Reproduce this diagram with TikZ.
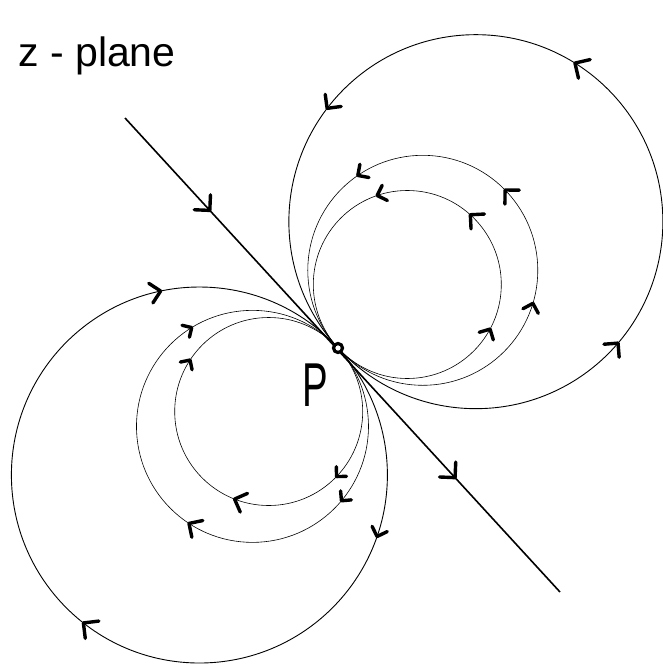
\documentclass[tikz,border=0pt]{standalone}
\usepackage{fontspec}
\setmainfont{Liberation Sans}
\usetikzlibrary{decorations.markings}
\tikzset{
  field/.style={line width=0.6pt},
  bigfield/.style={line width=0.9pt},
  chevstroke/.style={line width=3.4pt, line cap=round, line join=round},
  axisline/.style={line width=1.6pt, postaction={decorate},
    decoration={markings,
      mark=at position 0.195 with {\draw[chevstroke] (-11,-11) -- (0,0) -- (-11,11);},
      mark=at position 0.759 with {\draw[chevstroke] (-11,-11) -- (0,0) -- (-11,11);}}},
  handtext/.style={inner sep=0pt},
}
% center, radius, angle, direction (+1 cw / -1 ccw on screen), arm size
\newcommand\fmark[5]{%
  \begin{scope}[shift={([shift={(#3:#2)}]#1)}, rotate={-(#3+(#4)*90)}]
    \draw[chevstroke] (-#5,-#5) -- (0,0) -- (-#5,#5);
  \end{scope}}
\begin{document}
\begin{tikzpicture}[x=1pt,y=-1pt]
\useasboundingbox (0,0) rectangle (662,664);
\coordinate (P) at (338,348);
\coordinate (A) at (125,118);
\coordinate (B) at (560,592);
% upper-right family
\coordinate (U1) at ([shift={(-42.5:187)}]P);
\coordinate (U2) at ([shift={(-42.5:115)}]P);
\coordinate (U3) at ([shift={(-42.5:94)}]P);
% lower-left family
\coordinate (L1) at ([shift={(137.5:188)}]P);
\coordinate (L2) at ([shift={(137.5:116)}]P);
\coordinate (L3) at ([shift={(137.5:94)}]P);

\draw[bigfield] (U1) circle[radius=187];
\draw[field] (U2) circle[radius=115];
\draw[field] (U3) circle[radius=94];
\draw[bigfield] (L1) circle[radius=188];
\draw[field] (L2) circle[radius=116];
\draw[field] (L3) circle[radius=94];

\draw[axisline] (A) -- (B);

% arrows upper
\fmark{U1}{187}{217.3}{-1}{10}
\fmark{U1}{187}{302}{-1}{11}
\fmark{U1}{187}{40.5}{-1}{10}
\fmark{U2}{115}{16.7}{-1}{8}
\fmark{U2}{115}{315.7}{-1}{10}
\fmark{U2}{115}{235.6}{-1}{8}
\fmark{U3}{94}{28.3}{-1}{8}
\fmark{U3}{94}{312.1}{-1}{10}
\fmark{U3}{94}{251.3}{-1}{8}
% arrows lower
\fmark{L1}{188}{258.1}{1}{10}
\fmark{L1}{188}{19.1}{1}{8}
\fmark{L1}{188}{128.1}{1}{11}
\fmark{L2}{116}{238.4}{1}{7}
\fmark{L2}{116}{39.9}{1}{7}
\fmark{L2}{116}{123.2}{1}{10}
\fmark{L3}{94}{213.2}{1}{7}
\fmark{L3}{94}{43.8}{1}{7}
\fmark{L3}{94}{111.3}{1}{10}

\draw[line width=3.2pt, fill=white] (P) circle[radius=4.5];
\node[handtext] (plabel) at (315,385) {\fontsize{62}{62}\selectfont\scalebox{0.62}[1]{P}};
\node[handtext] (zlabel) at (97,56) {\fontsize{41}{41}\selectfont z - plane};
\end{tikzpicture}
\end{document}
